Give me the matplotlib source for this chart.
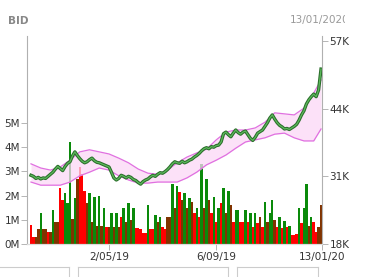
import numpy as np
import matplotlib
matplotlib.use("Agg")
import matplotlib.pyplot as plt
from matplotlib.lines import Line2D
from matplotlib.transforms import Bbox

# price (thousand VND), one point per bar
price = [
    31.2, 31.0, 30.6, 30.8, 30.5, 30.7, 30.6, 31.0, 31.4, 31.8,
    32.4, 32.9, 32.5, 32.1, 32.9, 33.5, 33.8, 34.9, 35.7, 35.0,
    34.4, 33.9, 33.6, 33.8, 34.2, 34.5, 34.0, 33.7, 33.6, 33.4,
    33.2, 33.0, 32.8, 31.8, 30.7, 30.3, 30.6, 31.2, 31.0, 30.7,
    31.0, 30.8, 30.4, 30.2, 29.8, 29.5, 30.0, 30.3, 30.5, 30.9,
    31.2, 31.0, 31.4, 31.7, 31.6, 31.9, 32.3, 32.8, 33.4, 33.8,
    33.6, 33.5, 33.9, 33.6, 33.8, 34.1, 34.3, 34.7, 35.0, 35.4,
    35.9, 36.3, 36.5, 36.3, 36.7, 36.6, 36.9, 37.0, 37.6, 39.2,
    39.5, 39.0, 38.6, 39.3, 39.9, 39.4, 39.1, 39.5, 39.7, 39.0,
    38.3, 37.9, 38.5, 39.3, 39.6, 39.9, 40.6, 41.3, 42.2, 42.8,
    42.0, 41.3, 40.8, 40.5, 40.1, 40.2, 40.0, 40.3, 40.6, 41.0,
    41.8, 42.8, 43.6, 44.9, 45.7, 46.3, 46.8, 46.3, 47.6, 51.6,
]

# volume (million shares) and bar colour code: r = down, g = up, b = mixed
volume = [
    0.8, 0.3, 0.3, 0.6, 1.3, 0.6, 0.6, 0.5, 0.5, 1.4,
    0.9, 0.9, 2.3, 1.8, 2.1, 1.7, 4.2, 1.05, 1.9, 2.7,
    3.2, 2.9, 2.2, 1.7, 2.1, 0.9, 1.95, 0.75, 2.0, 0.75,
    1.5, 0.7, 0.7, 1.3, 0.7, 1.3, 0.7, 1.1, 1.5, 0.9,
    1.7, 1.0, 1.5, 0.65, 0.65, 0.6, 0.45, 0.45, 1.6, 0.6,
    0.6, 1.2, 0.9, 1.1, 0.7, 0.6, 1.1, 1.1, 2.5, 1.5,
    2.4, 2.15, 1.8, 2.1, 1.5, 1.9, 1.75, 1.3, 1.5, 1.1,
    3.3, 1.5, 2.7, 1.8, 1.3, 1.95, 0.9, 1.5, 1.7, 2.3,
    1.3, 2.2, 1.6, 0.9, 1.4, 1.4, 0.9, 0.9, 1.4, 0.9,
    1.3, 0.7, 1.3, 0.85, 1.1, 0.7, 1.75, 0.9, 1.3, 1.8,
    1.0, 0.7, 1.1, 0.65, 0.95, 0.7, 0.75, 0.37, 0.37, 0.4,
    1.5, 0.85, 1.5, 2.5, 0.75, 1.1, 0.9, 0.5, 0.7, 1.6,
]
vol_dir = (
    "rrbbgbbrbg"
    "bbrrgggbgb"
    "rrrbgbgbgb"
    "grbgbgbrgb"
    "gbgrrrrrgr"
    "rgbgrrbbgb"
    "grbgbgbrgr"
    "gbgbrgrgrg"
    "bgbrggrrgr"
    "grgrbrgbgg"
    "brgrgrgrrr"
    "grggbgrrbb"
)

# Bollinger bands, sampled every 4th bar
band_idx = [0, 4, 8, 12, 16, 20, 24, 28, 32, 36, 40, 44, 48, 52, 56, 60,
            64, 68, 72, 76, 80, 84, 88, 92, 96, 100, 104, 108, 112, 116, 119]
band_upper = [33.4, 32.6, 32.2, 32.8, 34.1, 35.7, 36.1, 35.7, 35.3, 34.5,
              33.6, 32.4, 31.6, 31.4, 32.2, 33.6, 34.7, 35.5, 36.2, 38.0,
              39.5, 39.9, 39.9, 40.3, 41.4, 43.2, 43.0, 42.8, 44.1, 47.0, 49.5]
band_lower = [29.9, 29.3, 29.3, 29.3, 29.9, 31.1, 31.8, 32.6, 32.2, 31.1,
              30.3, 29.7, 29.7, 29.9, 29.9, 29.9, 30.7, 31.8, 33.2, 34.1,
              35.1, 36.4, 37.6, 38.0, 38.4, 39.1, 39.3, 38.4, 37.8, 37.8, 40.1]

tick_pos = [32, 76, 119.4]
tick_labels = ["2/05/19", "6/09/19", "13/01/20"]
vol_ticks = [0, 1, 2, 3, 4, 5]
price_ticks = [18, 31, 44, 57]

COLORS = {"r": "#ff0000", "g": "#0a8a0a", "b": "#803300"}
W, H = 365, 277

fig = plt.figure(figsize=(W / 100, H / 100), dpi=100)
ax = fig.add_axes([27 / W, 1 - 244 / H, (322 - 27) / W, (244 - 36) / H])

x = np.arange(len(volume))
ax.bar(x, volume, width=1.0, color=[COLORS[c] for c in vol_dir], linewidth=0)
ax.set_xlim(-1.64, 119.4)
ax.set_ylim(0, 8.6)
ax.set_yticks(vol_ticks)
ax.set_yticklabels([f"{v}M" for v in vol_ticks])
ax.set_xticks(tick_pos)
ax.set_xticklabels(tick_labels)

ax2 = ax.twinx()
ax2.fill_between(band_idx, band_lower, band_upper, color="#fbd8f6", alpha=0.75,
                 linewidth=0, zorder=1)
ax2.plot(band_idx, band_upper, color="#e070e0", lw=0.9, zorder=2)
ax2.plot(band_idx, band_lower, color="#e070e0", lw=0.9, zorder=2)
ax2.plot(x, price, color="#2a6e2a", lw=2.4, zorder=3, solid_joinstyle="round")
ax2.plot(x, price, color="#5cb85c", lw=0.9, zorder=4, solid_joinstyle="round")
ax2.set_ylim(18, 57.96)
ax2.set_yticks(price_ticks)
ax2.set_yticklabels([f"{v}K" for v in price_ticks])

for a in (ax, ax2):
    a.spines["top"].set_visible(False)
    a.spines["bottom"].set_color("#dddddd")
    for s in ("left", "right"):
        a.spines[s].set_color("#b0b0b0")
        a.spines[s].set_linewidth(0.8)
ax2.spines["left"].set_visible(False)
ax.spines["right"].set_visible(False)

ax.tick_params(axis="y", length=4, width=0.6, color="#aaaaaa", labelsize=7.5,
               labelcolor="#333333", pad=1)
ax.tick_params(axis="x", length=4, width=0.6, color="#aaaaaa", labelsize=7.5,
               labelcolor="#333333", pad=2)
ax2.tick_params(axis="y", length=4, width=0.6, color="#aaaaaa", labelsize=7.5,
                labelcolor="#333333", pad=1.5)

fig.text(8 / W, 1 - 21 / H, "BID", fontsize=7.5, color="#888888",
         fontweight="bold", va="center")
t = fig.text(290 / W, 1 - 20 / H, "13/01/2020", fontsize=7.5, color="#999999",
             va="center")
t.set_clip_box(Bbox.from_extents(0, 0, 345, H))
t.set_clip_on(True)

# page frame lines under the chart
grey = "#cccccc"
segs = [
    ([0, 69], [267, 267]), ([69, 69], [267, 277]),
    ([78, 78], [267, 277]), ([78, 228], [267, 267]), ([228, 228], [267, 277]),
    ([237, 237], [267, 277]), ([237, 318], [267, 267]), ([318, 318], [267, 277]),
]
for xs, ys in segs:
    fig.add_artist(Line2D([v / W for v in xs], [1 - v / H for v in ys],
                          color=grey, lw=0.8, transform=fig.transFigure))

fig.savefig("out.png", dpi=100)
